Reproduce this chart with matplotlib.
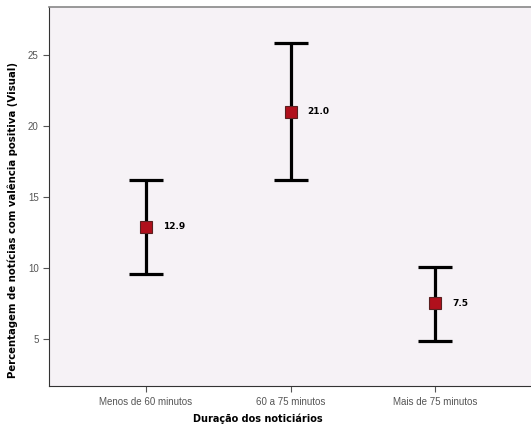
import numpy as np
import matplotlib
matplotlib.use("Agg")
import matplotlib.pyplot as plt

# dados
categorias = ['Menos de 60 minutos', '60 a 75 minutos', 'Mais de 75 minutos']
medias = [12.9, 21.0, 7.5]
limite_sup = [16.2, 25.85, 10.1]
limite_inf = [9.55, 16.2, 4.85]
rotulos = ['12.9', '21.0', '7.5']

x = np.arange(1, len(categorias) + 1)
erro = [np.array(medias) - np.array(limite_inf), np.array(limite_sup) - np.array(medias)]

fig = plt.figure(figsize=(5.31, 4.28), dpi=100)
ax = fig.add_axes([49 / 531, 1 - 386 / 428, 1 - 49 / 531, (386 - 7) / 428])
ax.set_facecolor('#f6f2f6')

ax.errorbar(x, medias, yerr=erro, fmt='none', ecolor='black', elinewidth=2.3,
            capsize=12, capthick=2.3, zorder=2)
ax.plot(x, medias, 's', markersize=8, markerfacecolor='#b0101c',
        markeredgecolor='#5a2020', markeredgewidth=0.8, zorder=3)
for xi, m, r in zip(x, medias, rotulos):
    ax.annotate(r, (xi, m), xytext=(12, 0), textcoords='offset points',
                va='center', ha='left', fontsize=6.5, fontweight='bold',
                family='DejaVu Sans')

ax.set_xlim(0.33, 3.66)
ax.set_ylim(1.69, 28.38)
ax.set_xticks(x)
ax.set_xticklabels(categorias, family='Liberation Sans', fontsize=7, color='#333333')
ax.set_yticks([5, 10, 15, 20, 25])
ax.set_yticklabels(['5', '10', '15', '20', '25'], family='Liberation Sans',
                   fontsize=7, color='#333333')
ax.tick_params(axis='both', direction='out', colors='#555555', length=4, width=0.8)
ax.tick_params(axis='x', pad=4)

ax.spines['right'].set_visible(False)
ax.spines['top'].set_color('#888888')
ax.spines['top'].set_linewidth(1.2)
ax.spines['left'].set_color('#333333')
ax.spines['bottom'].set_color('#333333')

ax.set_xlabel('Duração dos noticiários', fontsize=7, fontweight='bold',
              family='DejaVu Sans')
ax.xaxis.set_label_coords((258 - 49) / 482, (386 - 413) / 379)
ax.set_ylabel('Percentagem de notícias com valência positiva (Visual)', fontsize=7.3,
              fontweight='bold', family='DejaVu Sans')
ax.yaxis.set_label_coords((18 - 49) / 482, (386 - 220) / 379)

fig.savefig('out.png', dpi=100)
